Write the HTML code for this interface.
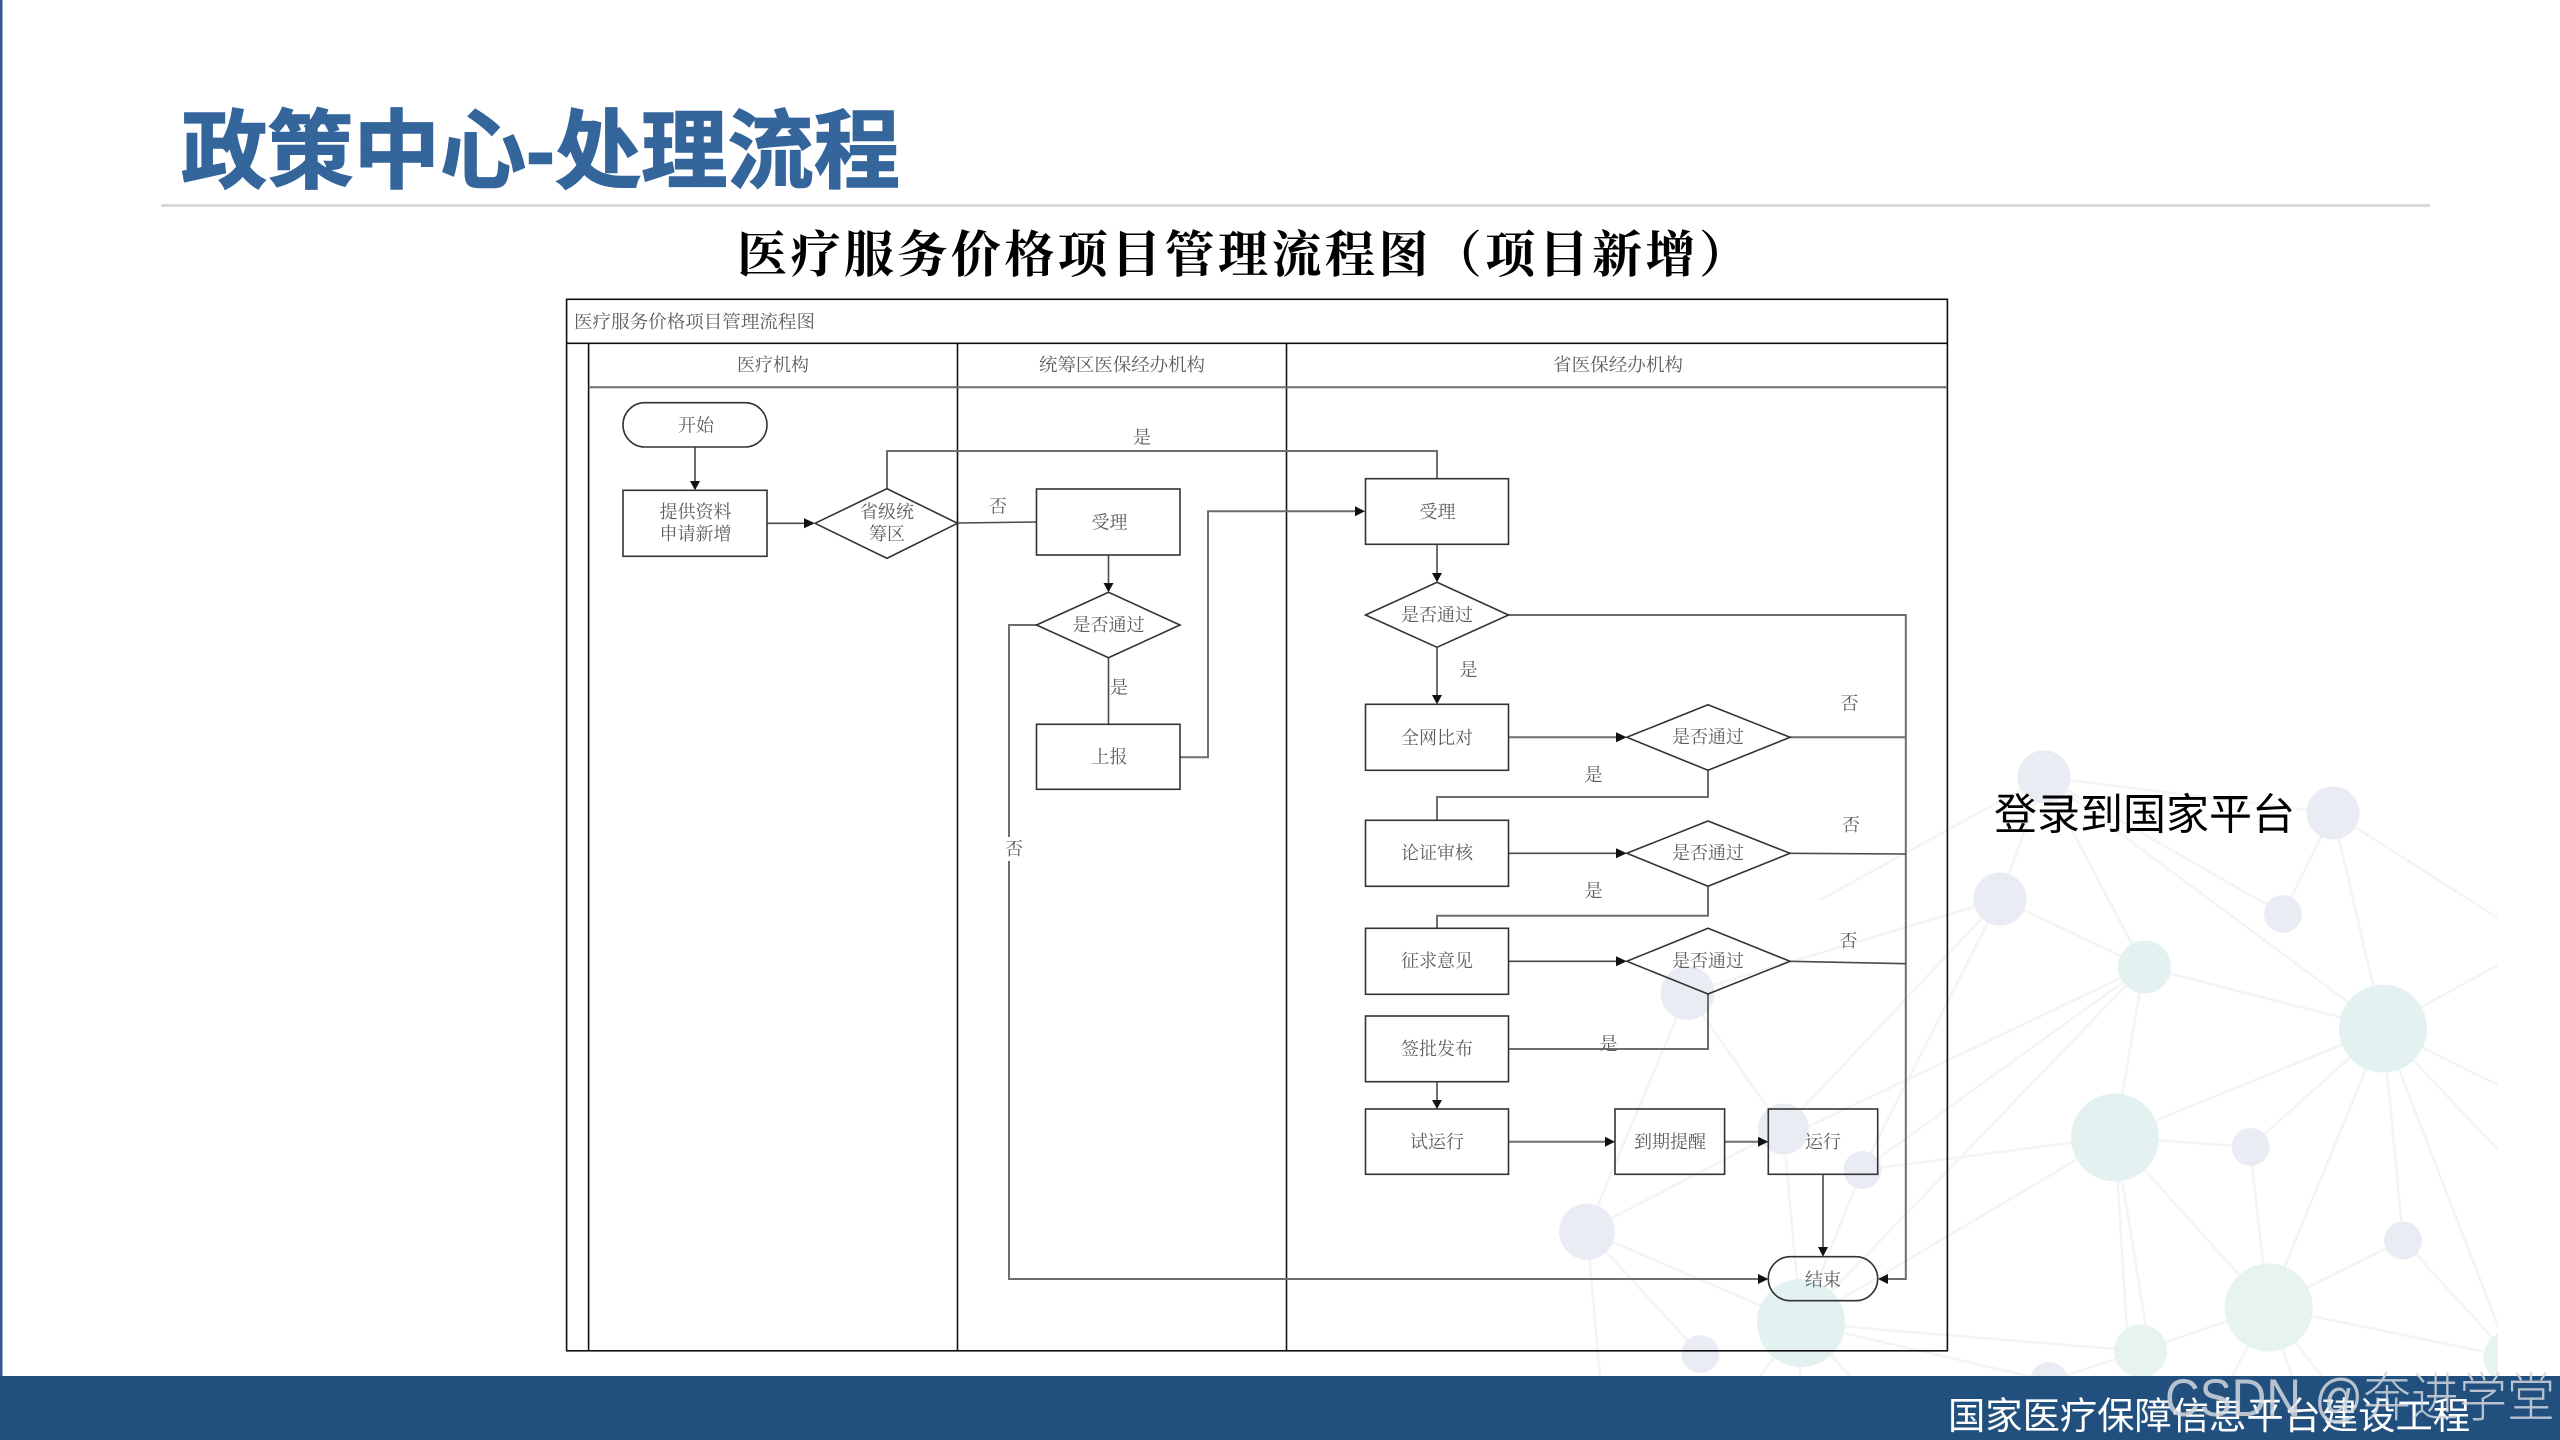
<!DOCTYPE html>
<html lang="zh-CN">
<head>
<meta charset="utf-8">
<title>政策中心-处理流程</title>
<style>
html,body{margin:0;padding:0;width:2560px;height:1440px;background:#fff;overflow:hidden}
svg{display:block;position:absolute;left:0;top:0}
.bgl line{stroke:#f4f4f5;stroke-width:2.6}
.ln{fill:none;stroke:#4a4a4a;stroke-width:1.6}
.ln2{fill:none;stroke:#6e6e6e;stroke-width:2}
.fr{fill:none;stroke:#111;stroke-width:1.6}
.sh{fill:none;stroke:#333;stroke-width:1.6}
.ar{fill:#111;stroke:none}
.t{font-family:"Liberation Serif","Noto Serif CJK SC",serif;font-size:18px;fill:#5c5c5c;text-anchor:middle;dominant-baseline:central}
</style>
</head>
<body>
<svg width="2560" height="1440" viewBox="0 0 2560 1440" xmlns="http://www.w3.org/2000/svg">
<defs><clipPath id="cp"><rect x="1500" y="700" width="998" height="676"/></clipPath></defs>
<rect width="2560" height="1440" fill="#fff"/>
<rect x="0" y="0" width="2.5" height="1440" fill="#2f5a93"/>

<!-- background network -->
<g clip-path="url(#cp)">
<g class="bgl">
<line x1="2044" y1="777" x2="2333" y2="813"/><line x1="2044" y1="777" x2="2283" y2="914"/>
<line x1="2044" y1="777" x2="2383" y2="1028"/><line x1="2044" y1="777" x2="2144" y2="967"/>
<line x1="2044" y1="777" x2="2000" y2="899"/><line x1="2044" y1="777" x2="1820" y2="900"/>
<line x1="2000" y1="899" x2="2144" y2="967"/><line x1="2333" y1="813" x2="2283" y2="914"/>
<line x1="2333" y1="813" x2="2383" y2="1028"/><line x1="2333" y1="813" x2="2498" y2="918"/>
<line x1="2144" y1="967" x2="2383" y2="1028"/><line x1="2144" y1="967" x2="2115" y2="1137"/>
<line x1="2383" y1="1028" x2="2498" y2="965"/><line x1="2383" y1="1028" x2="2498" y2="1085"/>
<line x1="2383" y1="1028" x2="2498" y2="1150"/><line x1="2383" y1="1028" x2="2115" y2="1137"/>
<line x1="2383" y1="1028" x2="2250" y2="1147"/><line x1="2383" y1="1028" x2="2268" y2="1307"/>
<line x1="2383" y1="1028" x2="2403" y2="1240"/><line x1="2383" y1="1028" x2="2510" y2="1357"/>
<line x1="2115" y1="1137" x2="2250" y2="1147"/><line x1="2115" y1="1137" x2="2268" y2="1307"/>
<line x1="2115" y1="1137" x2="2128" y2="1351"/><line x1="2115" y1="1137" x2="2150" y2="1351"/>
<line x1="2115" y1="1137" x2="1801" y2="1323"/><line x1="2250" y1="1147" x2="2268" y2="1307"/>
<line x1="2403" y1="1240" x2="2268" y2="1307"/><line x1="2403" y1="1240" x2="2510" y2="1357"/>
<line x1="2268" y1="1307" x2="2140" y2="1351"/><line x1="2268" y1="1307" x2="2510" y2="1357"/>
<line x1="2268" y1="1307" x2="2220" y2="1400"/><line x1="2268" y1="1307" x2="2300" y2="1400"/>
<line x1="2268" y1="1307" x2="2340" y2="1400"/><line x1="2140" y1="1351" x2="2049" y2="1381"/>
<line x1="2140" y1="1351" x2="1801" y2="1323"/>
<line x1="1801" y1="1323" x2="2049" y2="1381"/>
<line x1="2144" y1="967" x2="1801" y2="1130"/><line x1="2144" y1="967" x2="1862" y2="1170"/>
<line x1="2144" y1="967" x2="1801" y2="1323"/><line x1="2000" y1="899" x2="1783" y2="1129"/>
<line x1="2000" y1="899" x2="1687" y2="993"/><line x1="2000" y1="899" x2="1862" y2="1170"/>
<line x1="1687" y1="993" x2="1587" y2="1231"/><line x1="1687" y1="993" x2="1783" y2="1129"/>
<line x1="1783" y1="1129" x2="1801" y2="1323"/>
<line x1="1783" y1="1129" x2="1587" y2="1231"/><line x1="1862" y1="1170" x2="1801" y2="1323"/>
<line x1="1587" y1="1231" x2="1801" y2="1323"/><line x1="1587" y1="1231" x2="1700" y2="1354"/>
<line x1="1587" y1="1231" x2="1600" y2="1376"/><line x1="1801" y1="1323" x2="1760" y2="1376"/>
<line x1="1801" y1="1323" x2="1800" y2="1376"/><line x1="1801" y1="1323" x2="1850" y2="1376"/>
<line x1="2115" y1="1137" x2="1862" y2="1170"/>
</g>
<g fill="#eaecf4">
<circle cx="2044" cy="777" r="26.5"/><circle cx="2333" cy="813" r="26.5"/><circle cx="2000" cy="899" r="26.5"/>
<circle cx="2283" cy="914" r="19"/><circle cx="2250.6" cy="1147" r="19"/><circle cx="2403" cy="1240.6" r="19"/>
<circle cx="2049" cy="1381" r="19"/><circle cx="1687.5" cy="993" r="27"/><circle cx="1783.5" cy="1129" r="25.5"/>
<circle cx="1862.5" cy="1170" r="19"/><circle cx="1587" cy="1231.7" r="28"/><circle cx="1700.4" cy="1354" r="19"/>
</g>
<g fill="#e3f1f1">
<circle cx="2144.5" cy="967" r="26.5"/><circle cx="2383" cy="1028.5" r="44"/><circle cx="2115" cy="1137.5" r="44"/>
<circle cx="1801" cy="1323" r="44"/>
</g>
<g fill="#e6f3ef">
<circle cx="2268.7" cy="1307.5" r="44"/><circle cx="2140.7" cy="1351" r="26.5"/><circle cx="2510" cy="1357" r="26.5"/>
</g>
</g>

<!-- header -->
<text x="181" y="152" font-family="'Liberation Sans','Noto Sans CJK SC',sans-serif" font-size="86" font-weight="700" fill="#34659b" stroke="#34659b" stroke-width="1.4" dominant-baseline="central" textLength="719" lengthAdjust="spacingAndGlyphs">政策中心-处理流程</text>
<rect x="161" y="204" width="2269" height="3" fill="#d9d9d9"/>
<text x="737" y="255" font-family="'Liberation Serif','Noto Serif CJK SC',serif" font-size="50" font-weight="700" fill="#000" dominant-baseline="central" textLength="1012" lengthAdjust="spacing">医疗服务价格项目管理流程图（项目新增）</text>

<!-- frame -->
<rect class="fr" x="566.6" y="299.300" width="1380.8" height="1051.500"/>
<line class="fr" x1="566.6" y1="343.3" x2="1947.4" y2="343.3"/>
<line class="fr" x1="588.6" y1="343.3" x2="588.6" y2="1350.8"/>
<line class="fr" x1="957.5" y1="343.3" x2="957.5" y2="1350.8"/>
<line class="fr" x1="1286.5" y1="343.3" x2="1286.5" y2="1350.8"/>
<line class="ln2" x1="588.6" y1="387.3" x2="1947.4" y2="387.3"/>
<text class="t" x="574" y="322" style="text-anchor:start" textLength="241" lengthAdjust="spacingAndGlyphs">医疗服务价格项目管理流程图</text>
<text class="t" x="773" y="365">医疗机构</text>
<text class="t" x="1122" y="365" textLength="166" lengthAdjust="spacingAndGlyphs">统筹区医保经办机构</text>
<text class="t" x="1618" y="365" textLength="130" lengthAdjust="spacingAndGlyphs">省医保经办机构</text>

<!-- connectors -->
<path class="ln" d="M695 447V481"/>
<path class="ln" d="M767 523.300H805"/>
<path class="ln2" d="M887 488.700V451H1437V478.700"/>
<path class="ln" d="M957.500 523L1036.500 522"/>
<path class="ln" d="M1108.500 555V583"/>
<path class="ln" d="M1108.500 657.700V724.300"/>
<path class="ln2" d="M1036.500 625H1009V1279H1758"/>
<path class="ln2" d="M1180 757.300H1208V511.300H1356"/>
<path class="ln" d="M1437 544.300V573"/>
<path class="ln" d="M1437 647.300V695"/>
<path class="ln2" d="M1508.500 615H1905.800V1279H1888"/>
<path class="ln2" d="M1508.500 737.300H1617"/>
<path class="ln2" d="M1790 737.300H1905.800"/>
<path class="ln" d="M1508.500 853.300H1617"/>
<path class="ln" d="M1790 853.300L1905.800 854"/>
<path class="ln" d="M1508.500 961.300H1617"/>
<path class="ln" d="M1790 961.300L1905.800 963.700"/>
<path class="ln2" d="M1708 770.300V797H1437V820.300"/>
<path class="ln2" d="M1708 886.300V915.700H1437V928.300"/>
<path class="ln2" d="M1708 994V1049H1508.500"/>
<path class="ln" d="M1437 1081.700V1100"/>
<path class="ln2" d="M1508.500 1141.700H1606"/>
<path class="ln2" d="M1724.600 1141.700H1759"/>
<path class="ln2" d="M1823 1174.300V1247"/>

<!-- arrowheads -->
<path class="ar" d="M690 481H700L695 490.300Z"/>
<path class="ar" d="M804 518.300L815 523.300L804 528.300Z"/>
<path class="ar" d="M1103.500 583H1113.500L1108.500 592.300Z"/>
<path class="ar" d="M1432 573H1442L1437 582.300Z"/>
<path class="ar" d="M1432 695H1442L1437 704.300Z"/>
<path class="ar" d="M1355 506.300L1365 511.300L1355 516.300Z"/>
<path class="ar" d="M1616 732.300L1626.800 737.300L1616 742.300Z"/>
<path class="ar" d="M1616 848.300L1626.800 853.300L1616 858.300Z"/>
<path class="ar" d="M1616 956.300L1626.800 961.300L1616 966.300Z"/>
<path class="ar" d="M1432 1100H1442L1437 1109Z"/>
<path class="ar" d="M1605 1136.700L1615 1141.700L1605 1146.700Z"/>
<path class="ar" d="M1758 1136.700L1768.300 1141.700L1758 1146.700Z"/>
<path class="ar" d="M1818 1247H1828L1823 1256.700Z"/>
<path class="ar" d="M1758 1274L1768.300 1279L1758 1284Z"/>
<path class="ar" d="M1888 1274L1878 1279L1888 1284Z"/>

<!-- shapes -->
<rect class="sh" x="623" y="402.700" width="144" height="44.300" rx="22" ry="22"/>
<rect class="sh" x="623" y="490.300" width="144" height="66"/>
<path class="sh" d="M815 523.300L887 488.700L957.500 523.300L887 558.300Z"/>
<rect class="sh" x="1036.500" y="489" width="143.500" height="66"/>
<path class="sh" d="M1036.500 625L1108.500 592.300L1180 625L1108.500 657.700Z"/>
<rect class="sh" x="1036.500" y="724.300" width="143.500" height="65"/>
<rect class="sh" x="1365.500" y="478.700" width="143" height="65.600"/>
<path class="sh" d="M1365.500 615L1437 582.300L1508.500 615L1437 647.300Z"/>
<rect class="sh" x="1365.500" y="704.300" width="143" height="66"/>
<rect class="sh" x="1365.500" y="820.300" width="143" height="66"/>
<rect class="sh" x="1365.500" y="928.300" width="143" height="66"/>
<rect class="sh" x="1365.500" y="1016" width="143" height="65.700"/>
<rect class="sh" x="1365.500" y="1109" width="143" height="65.300"/>
<path class="sh" d="M1626.800 737.300L1708 704.700L1790 737.300L1708 770.300Z"/>
<path class="sh" d="M1626.800 853.300L1708 821L1790 853.300L1708 886.300Z"/>
<path class="sh" d="M1626.800 961.300L1708 928.300L1790 961.300L1708 994Z"/>
<rect class="sh" x="1615" y="1109" width="109.600" height="65.300"/>
<rect class="sh" x="1768.300" y="1109" width="109.400" height="65.300"/>
<rect class="sh" x="1768.300" y="1256.700" width="109.400" height="44" rx="22" ry="22"/>

<!-- white patch behind label -->
<rect x="1004" y="837" width="18" height="24" fill="#fff"/>

<!-- labels -->
<text class="t" x="696" y="425.500">开始</text>
<text class="t" x="695.500" y="512">提供资料</text>
<text class="t" x="695.500" y="534">申请新增</text>
<text class="t" x="887" y="512">省级统</text>
<text class="t" x="887" y="534">筹区</text>
<text class="t" x="1142" y="437.500">是</text>
<text class="t" x="998" y="506.500">否</text>
<text class="t" x="1109.500" y="522.500">受理</text>
<text class="t" x="1108.500" y="625">是否通过</text>
<text class="t" x="1119" y="687.500">是</text>
<text class="t" x="1109.500" y="757">上报</text>
<text class="t" x="1014" y="849">否</text>
<text class="t" x="1437.500" y="512">受理</text>
<text class="t" x="1437" y="615">是否通过</text>
<text class="t" x="1468.500" y="670">是</text>
<text class="t" x="1437" y="738">全网比对</text>
<text class="t" x="1708" y="737">是否通过</text>
<text class="t" x="1849.500" y="703.500">否</text>
<text class="t" x="1593.500" y="775">是</text>
<text class="t" x="1437" y="853">论证审核</text>
<text class="t" x="1708" y="853">是否通过</text>
<text class="t" x="1851" y="825">否</text>
<text class="t" x="1593.500" y="891">是</text>
<text class="t" x="1437" y="961">征求意见</text>
<text class="t" x="1708" y="961">是否通过</text>
<text class="t" x="1848.500" y="941">否</text>
<text class="t" x="1608.500" y="1044">是</text>
<text class="t" x="1437" y="1049">签批发布</text>
<text class="t" x="1437" y="1142">试运行</text>
<text class="t" x="1670" y="1142">到期提醒</text>
<text class="t" x="1823" y="1142">运行</text>
<text class="t" x="1823" y="1280">结束</text>

<text x="1994" y="815.500" font-family="'Liberation Sans','Noto Sans CJK SC',sans-serif" font-size="43" fill="#000" dominant-baseline="central">登录到国家平台</text>

<!-- footer -->
<rect x="0" y="1376" width="2560" height="64" fill="#22507e"/>
<text x="1948" y="1416" font-family="'Liberation Sans','Noto Sans CJK SC',sans-serif" font-size="37.300" fill="#fff" dominant-baseline="central">国家医疗保障信息平台建设工程</text>
<text x="2165" y="1416" font-family="'Liberation Sans','Noto Sans CJK SC',sans-serif" font-size="53" font-weight="300" fill="#d2d6dc" fill-opacity="0.85" textLength="390" lengthAdjust="spacingAndGlyphs">CSDN @奔进学堂</text>
</svg>
</body>
</html>
